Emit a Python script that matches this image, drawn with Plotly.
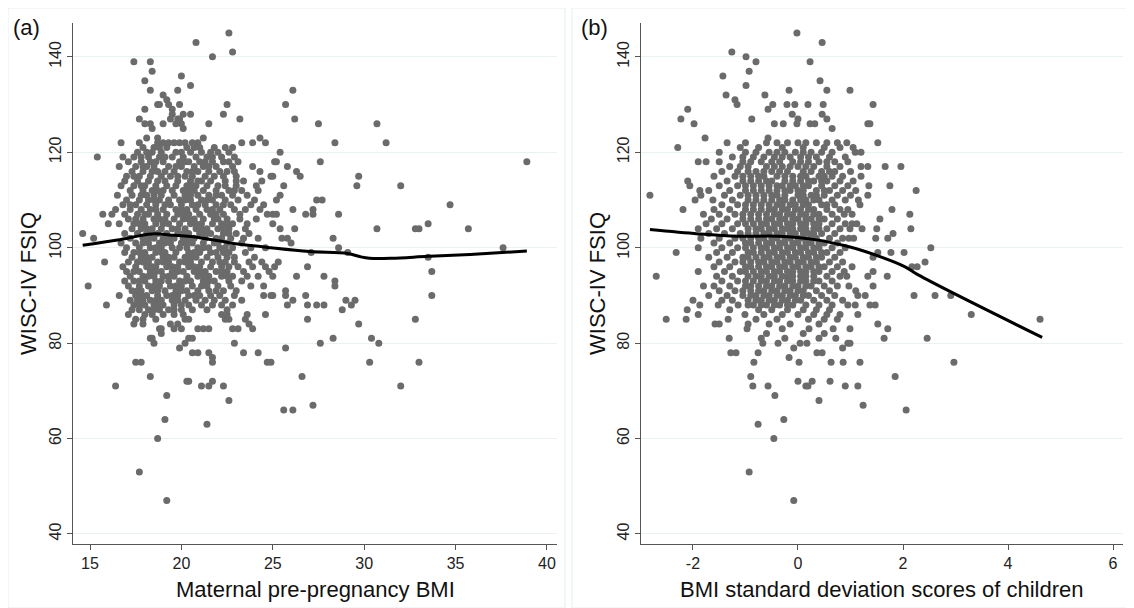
import plotly.graph_objects as go

# ---------------- Panel (a): maternal pre-pregnancy BMI vs WISC-IV FSIQ ----------------
# each entry: (FSIQ score, [maternal BMI values])
rows_a = [
    (145, [22.6]), (143, [20.8]), (141, [22.8]), (140, [21.7]), (139, [17.4, 18.3]),
    (137, [18.4]), (136, [20.0]), (135, [18.0]), (134, [20.5]), (133, [18.3, 19.8, 26.1]),
    (132, [19.0]), (131, [19.2]), (130, [18.7, 18.8, 19.3, 19.9, 22.5, 25.7]),
    (129, [18.0, 19.5]), (128, [19.5, 20.1, 20.5, 22.3]),
    (127, [17.7, 19.4, 19.8, 19.9, 23.2, 26.2]),
    (126, [18.0, 18.3, 19.0, 19.7, 20.0, 21.5, 27.5, 30.7]),
    (125, [18.4, 20.1]), (123, [18.1, 18.7, 21.2, 24.3]),
    (122, [16.7, 17.7, 18.7, 19.0, 19.3, 19.6, 19.9, 20.2, 20.6, 20.9, 23.3, 23.9, 24.6, 28.4, 31.2]),
    (121, [17.9, 18.5, 19.2, 20.3, 21.0, 21.8, 22.4, 22.8]),
    (120, [17.6, 18.4, 18.9, 19.7, 20.5, 21.1, 21.6, 22.6, 25.4]),
    (119, [15.4, 16.8, 17.4, 18.2, 18.8, 19.5, 20.1, 20.8, 21.4, 22.2, 22.9]),
    (118, [17.1, 17.8, 18.6, 19.0, 19.9, 20.4, 21.0, 21.3, 21.7, 22.3, 23.1, 25.1, 25.2, 27.6, 38.9]),
    (117, [16.6, 17.5, 18.1, 18.5, 19.3, 20.0, 20.7, 21.2, 21.9, 22.8, 23.9, 25.8]),
    (116, [17.3, 17.9, 18.4, 19.1, 19.6, 20.3, 20.9, 21.5, 22.1, 22.9, 24.3, 26.3]),
    (115, [17.0, 17.7, 18.3, 18.9, 19.4, 20.2, 20.6, 21.3, 21.8, 23.0, 24.9, 25.0, 26.5, 29.7]),
    (114, [16.9, 17.6, 18.2, 18.7, 19.8, 20.5, 21.1, 21.6, 22.4, 23.4, 24.4]),
    (113, [16.7, 17.4, 18.0, 18.6, 19.2, 19.7, 20.3, 20.8, 21.4, 22.0, 23.0, 24.1, 25.6, 29.6, 32.0]),
    (112, [17.2, 17.9, 18.4, 19.0, 19.5, 20.1, 20.7, 21.2, 21.9, 22.6, 23.3, 24.2]),
    (111, [16.5, 17.3, 17.8, 18.5, 18.9, 19.6, 20.2, 20.9, 21.5, 22.2, 22.8, 23.6, 25.4]),
    (110, [17.0, 17.7, 18.2, 18.8, 19.3, 19.9, 20.5, 21.1, 21.7, 22.4, 23.1, 24.0, 25.2, 27.4, 27.7]),
    (109, [16.8, 17.5, 18.1, 18.6, 19.4, 20.0, 20.6, 21.3, 21.9, 22.7, 23.8, 24.5, 34.7]),
    (108, [16.4, 17.2, 17.8, 18.3, 19.0, 19.7, 20.3, 20.8, 21.4, 22.1, 22.9, 23.5, 24.3, 26.1, 27.2]),
    (107, [15.7, 16.2, 16.9, 17.6, 18.2, 18.7, 19.2, 19.8, 20.4, 21.0, 21.6, 22.3, 23.2, 24.7, 25.0,
           25.2, 26.8, 27.2, 28.6]),
    (106, [17.1, 17.9, 18.5, 19.1, 19.6, 20.1, 20.7, 21.2, 21.8, 22.5, 23.2, 24.1]),
    (105, [16.0, 16.6, 17.4, 18.0, 18.6, 19.3, 19.9, 20.5, 21.1, 21.7, 22.2, 22.8, 23.6, 25.0, 33.5]),
    (104, [17.3, 17.8, 18.4, 18.9, 19.5, 20.2, 20.8, 21.4, 22.0, 22.6, 23.5, 25.4, 26.2, 30.7, 32.8,
           33.0, 35.7]),
    (103, [14.6, 16.9, 17.6, 18.1, 18.7, 19.2, 19.8, 20.4, 21.0, 21.6, 22.3, 23.0, 23.7]),
    (102, [15.2, 17.2, 17.9, 18.5, 19.0, 19.6, 20.1, 20.7, 21.3, 21.9, 22.7, 23.4, 24.2, 25.5, 25.8, 28.3]),
    (101, [16.7, 17.5, 18.2, 18.8, 19.4, 20.0, 20.6, 21.2, 21.8, 22.5, 23.3, 26.0]),
    (100, [17.0, 17.7, 18.3, 18.9, 19.5, 20.3, 20.9, 21.5, 22.1, 22.8, 23.8, 24.6, 28.6, 37.6]),
    (99, [16.9, 17.4, 18.0, 18.6, 19.1, 19.7, 20.4, 21.0, 21.6, 22.3, 22.6, 23.5, 27.1, 29.1]),
    (98, [17.3, 17.8, 18.4, 19.0, 19.6, 20.2, 20.8, 21.4, 22.0, 22.9, 24.0, 33.5]),
    (97, [15.8, 17.1, 17.6, 18.2, 18.7, 19.3, 19.9, 20.5, 21.1, 21.7, 22.4, 22.9, 23.7, 24.4, 25.3]),
    (96, [16.8, 17.5, 18.1, 18.6, 19.2, 19.8, 20.4, 21.0, 21.6, 22.2, 23.1, 23.9, 24.6, 25.1, 26.9]),
    (95, [17.0, 17.7, 18.3, 18.9, 19.5, 20.1, 20.7, 21.3, 21.9, 22.5, 23.4, 24.8, 33.7]),
    (94, [17.2, 17.9, 18.5, 19.0, 19.6, 20.3, 20.9, 21.5, 22.2, 22.8, 23.6, 24.2, 25.0, 26.3, 27.8]),
    (93, [16.9, 17.4, 18.0, 18.6, 19.3, 19.9, 20.5, 21.2, 21.8, 22.6, 23.3, 28.4]),
    (92, [14.9, 17.1, 17.7, 18.2, 18.8, 19.4, 20.0, 20.6, 21.4, 22.0, 22.7, 23.8, 24.5, 28.4]),
    (91, [17.3, 17.8, 18.4, 19.1, 19.7, 20.3, 20.9, 21.5, 22.3, 23.0, 25.7]),
    (90, [16.6, 17.5, 18.1, 18.7, 19.2, 19.8, 20.4, 21.0, 21.6, 22.1, 22.9, 24.5, 24.9, 25.0, 25.7,
          26.8, 33.7]),
    (89, [17.2, 17.9, 18.3, 18.9, 19.5, 20.2, 20.8, 21.3, 22.4, 23.3, 26.1, 29.0, 29.5]),
    (88, [15.9, 17.4, 18.0, 18.5, 19.0, 19.6, 20.4, 21.1, 21.7, 22.2, 22.8, 25.8, 26.9, 27.4, 27.8, 29.3]),
    (87, [17.3, 17.7, 18.2, 18.8, 19.3, 20.0, 20.6, 21.4, 22.5, 28.8]),
    (86, [17.1, 18.0, 18.4, 19.0, 19.6, 20.1, 22.2, 22.5, 23.6, 24.6]),
    (85, [17.5, 17.9, 18.6, 20.2, 20.4, 22.4, 22.6, 23.5, 26.9, 32.8]),
    (84, [17.4, 17.9, 19.4, 19.8, 23.7, 29.7]),
    (83, [18.8, 18.9, 19.6, 20.0, 20.9, 21.2, 21.5, 22.8, 23.1, 23.9]),
    (82, [18.9]), (81, [18.3, 18.4, 20.4, 20.6, 28.3, 30.4]), (80, [18.5, 20.2, 22.9, 27.6, 30.8]),
    (79, [19.9, 25.7]), (78, [20.6, 20.9, 21.5, 23.4, 24.2]), (77, [21.7]),
    (76, [17.5, 17.8, 21.7, 24.7, 24.9, 30.3, 33.0]), (73, [18.3, 26.6]), (72, [20.3, 20.4, 21.7]),
    (71, [16.4, 21.1, 21.5, 22.3, 32.0]), (69, [19.2]), (68, [22.6]), (67, [27.2]), (66, [25.6, 26.1]),
    (64, [19.1]), (63, [21.4]), (60, [18.7]), (53, [17.7]), (47, [19.2]),
]

# additional overlapping points in the dense core of panel (a)
core_a = [
    (121, [18.8, 20.7]), (120, [18.1, 20.0, 22.0]), (119, [17.8, 19.1, 21.7]), (118, [18.3, 20.2, 22.6]),
    (117, [17.9, 19.7, 21.5]), (116, [18.7, 20.6, 22.5]), (115, [17.4, 19.8, 22.3]),
    (114, [19.1, 20.9, 23.0]), (113, [17.8, 20.6, 22.4]), (112, [18.7, 20.4, 22.9]),
    (111, [18.1, 20.5, 21.9]), (110, [18.5, 20.2, 21.4]), (109, [17.2, 19.1, 20.9, 22.3]),
    (108, [18.6, 20.0, 21.7]), (107, [18.0, 20.1, 21.9]), (106, [17.5, 18.8, 20.4, 22.0]),
    (105, [17.7, 19.0, 20.8, 22.5]), (104, [18.1, 19.8, 21.1, 22.3]), (103, [18.4, 20.1, 21.3, 22.6]),
    (102, [18.2, 19.3, 20.4, 22.2]), (101, [17.9, 19.1, 20.3, 22.0]), (100, [18.6, 19.9, 21.2, 22.4]),
    (99, [17.7, 18.9, 20.7, 21.9]), (98, [18.1, 19.3, 20.5, 22.5]), (97, [17.9, 19.0, 20.2, 22.1]),
    (96, [18.4, 19.5, 20.7, 22.6]), (95, [17.4, 18.6, 19.8, 21.0, 22.2]), (94, [18.2, 19.3, 21.2, 22.5]),
    (93, [17.7, 18.9, 20.2, 21.5]), (92, [18.5, 19.7, 21.1]), (91, [17.6, 18.7, 20.0, 21.9]),
    (90, [17.8, 19.5, 20.7]), (89, [17.6, 18.6, 19.8, 21.8]), (88, [17.7, 18.8, 20.0]), (87, [18.5, 19.6]),
]

# lowess fit
fit_bmi_a = [14.6, 16.5, 18.4, 19.6, 21.0, 22.7, 24.9, 27.0, 29.1, 29.8, 30.3, 31.5, 33.5, 35.8, 38.9]
fit_iq_a = [100.5, 101.6, 102.9, 102.6, 102.1, 101.0, 100.0, 99.2, 98.8, 98.1, 97.8, 97.8, 98.2, 98.6, 99.3]

# ---------------- Panel (b): child BMI SD score vs WISC-IV FSIQ ----------------
rows_b = [
    (145, [-0.02]), (143, [0.46]), (141, [-1.26]), (140, [-0.99]), (139, [-0.80, 0.23]),
    (137, [-0.93]), (136, [-1.43]), (135, [0.42]), (134, [-0.99]), (133, [-0.17, 0.55, 0.99]),
    (132, [-1.37, -0.63]), (131, [-1.20]), (130, [-1.16, -0.48, -0.21, -0.06, 0.19, 0.48, 1.43]),
    (129, [-2.10, -0.57]), (128, [-0.11, 0.46]), (127, [-2.23, -0.88, 0.0, 0.55]),
    (126, [-1.98, -0.45, -0.28, -0.02, 0.23, 0.32, 1.33, 1.37]), (125, [0.65]),
    (123, [-1.77, -0.57]),
    (122, [-1.35, -1.0, -0.6, -0.4, -0.2, 0.0, 0.15, 0.35, 0.55, 0.75, 0.93, 1.52]),
    (121, [-2.29, -1.1, -0.75, -0.3, 0.1, 0.5, 0.8, 1.05]),
    (120, [-1.5, -1.0, -0.55, -0.25, -0.05, 0.25, 0.45, 0.65, 1.09, 1.2]),
    (119, [-1.25, -0.85, -0.45, -0.15, 0.05, 0.35, 0.6, 0.9]),
    (118, [-1.9, -1.75, -1.5, -1.05, -0.7, -0.35, -0.1, 0.2, 0.4, 0.7, 0.95]),
    (117, [-1.3, -0.95, -0.6, -0.3, 0.0, 0.3, 0.55, 0.8, 1.2, 1.33, 1.66, 1.96]),
    (116, [-1.45, -1.15, -0.8, -0.5, -0.2, 0.1, 0.45, 0.7, 1.0]),
    (115, [-1.6, -1.2, -0.9, -0.65, -0.4, -0.1, 0.15, 0.4, 0.65, 0.85, 1.2]),
    (114, [-2.10, -1.35, -1.05, -0.75, -0.5, -0.25, 0.05, 0.3, 0.55, 0.8, 1.05]),
    (113, [-2.06, -1.5, -1.15, -0.85, -0.55, -0.3, -0.05, 0.2, 0.45, 0.7, 0.95, 1.35, 1.75]),
    (112, [-1.87, -1.7, -1.3, -1.0, -0.7, -0.4, -0.15, 0.1, 0.35, 0.6, 0.85, 1.1, 2.25]),
    (111, [-2.82, -1.85, -1.4, -1.1, -0.8, -0.5, -0.25, 0.0, 0.25, 0.5, 0.75, 1.0, 1.33]),
    (110, [-1.96, -1.62, -1.25, -0.95, -0.65, -0.35, -0.1, 0.15, 0.4, 0.65, 0.9, 1.15]),
    (109, [-1.45, -1.15, -0.85, -0.55, -0.3, -0.05, 0.2, 0.45, 0.7, 1.18]),
    (108, [-2.19, -1.6, -1.3, -1.0, -0.7, -0.45, -0.2, 0.05, 0.3, 0.55, 0.8, 0.95, 1.79]),
    (107, [-1.8, -1.5, -1.2, -0.9, -0.6, -0.35, -0.1, 0.15, 0.4, 0.65, 0.88, 1.03, 2.13]),
    (106, [-1.65, -1.35, -1.05, -0.75, -0.5, -0.25, 0.0, 0.25, 0.5, 0.75, 1.56]),
    (105, [-1.75, -1.45, -1.15, -0.85, -0.6, -0.35, -0.1, 0.15, 0.4, 0.65, 0.9, 1.03, 1.12]),
    (104, [-1.9, -1.55, -1.25, -0.95, -0.7, -0.45, -0.2, 0.05, 0.3, 0.55, 0.8, 0.99, 1.22, 1.5, 2.15]),
    (103, [-1.7, -1.4, -1.1, -0.8, -0.55, -0.3, -0.05, 0.2, 0.45, 0.7, 1.81]),
    (102, [-1.85, -1.5, -1.2, -0.9, -0.65, -0.4, -0.15, 0.1, 0.35, 0.6, 0.85, 0.97, 1.06, 1.48, 1.71]),
    (101, [-1.6, -1.3, -1.0, -0.75, -0.5, -0.25, 0.0, 0.25, 0.5, 0.75]),
    (100, [-1.9, -1.45, -1.15, -0.85, -0.6, -0.35, -0.1, 0.15, 0.4, 0.65, 0.9, 2.53]),
    (99, [-2.32, -1.55, -1.25, -0.95, -0.7, -0.45, -0.2, 0.05, 0.3, 0.55, 0.8, 1.52, 1.77, 2.02]),
    (98, [-1.7, -1.35, -1.05, -0.8, -0.55, -0.3, -0.05, 0.2, 0.45, 0.7, 1.43]),
    (97, [-1.5, -1.2, -0.9, -0.65, -0.4, -0.15, 0.1, 0.35, 0.6, 0.85, 2.42]),
    (96, [-1.6, -1.3, -1.0, -0.75, -0.5, -0.25, 0.0, 0.25, 0.5, 0.75, 1.03, 2.17, 2.27]),
    (95, [-1.9, -1.4, -1.1, -0.85, -0.6, -0.35, -0.1, 0.15, 0.4, 0.65, 0.88, 1.43]),
    (94, [-2.70, -1.55, -1.25, -0.95, -0.7, -0.45, -0.2, 0.05, 0.3, 0.55, 0.8, 0.93, 1.33, 1.70]),
    (93, [-1.45, -1.15, -0.85, -0.6, -0.35, -0.1, 0.15, 0.4, 0.65]),
    (92, [-1.8, -1.6, -1.3, -1.0, -0.75, -0.5, -0.25, 0.0, 0.25, 0.5, 0.75, 0.97, 1.43]),
    (91, [-1.5, -1.2, -0.9, -0.65, -0.4, -0.15, 0.1, 0.35, 0.6, 1.1]),
    (90, [-1.70, -1.35, -1.05, -0.8, -0.55, -0.3, -0.05, 0.2, 0.45, 0.7, 1.14, 1.28, 2.21, 2.61, 2.91]),
    (89, [-2.0, -1.45, -1.25, -0.95, -0.7, -0.45, -0.2, 0.05, 0.3, 0.55, 0.85]),
    (88, [-1.87, -1.52, -1.14, -0.85, -0.6, -0.35, -0.1, 0.15, 0.4, 0.65, 0.95, 1.09, 1.37, 1.47]),
    (87, [-2.11, -1.3, -0.75, -0.5, -0.2, 0.1, 0.35, 0.6]),
    (86, [-1.90, -1.01, -0.65, -0.3, 0.0, 0.3, 0.55, 0.8, 1.14, 3.30]),
    (85, [-2.51, -2.13, -1.33, -0.8, -0.4, 0.2, 0.5, 0.75, 4.61]),
    (84, [-1.58, -1.50, -0.95, -0.55, -0.15, 0.4, 1.52]),
    (83, [-0.97, -0.3, 0.21, 0.67, 0.99, 1.71]), (82, [-0.6, 0.1, 0.5]),
    (81, [-1.31, -0.70, -0.25, 0.40, 0.72, 1.64, 2.46]), (80, [-0.67, -0.38, 0.04, 0.17, 0.95, 0.99]),
    (79, [-0.08, 0.85]), (78, [-1.28, -1.18, -0.76, 0.36, 0.46]), (77, [-0.17]),
    (76, [-0.84, 0.02, 0.63, 0.86, 1.18, 2.97]), (73, [-0.90, 1.85]), (72, [0.0, 0.27, 0.61]),
    (71, [-0.86, -0.57, 0.15, 0.19, 0.90, 1.14]), (69, [-0.44]), (68, [0.40]), (67, [1.24]),
    (66, [2.06]), (64, [-0.27]), (63, [-0.76]), (60, [-0.46]), (53, [-0.93]), (47, [-0.08]),
]

# additional overlapping points in the dense core of panel (b)
core_b = [
    (120, [-0.8, -0.4, 0.1]), (119, [-1.05, -0.65, -0.3, 0.2]), (118, [-0.9, -0.5, 0.05, 0.55]),
    (117, [-1.1, -0.45, -0.15, 0.15]), (116, [-0.95, -0.65, -0.35, 0.25, 0.6]),
    (115, [-1.05, -0.75, -0.25, 0.05, 0.5]), (114, [-0.9, -0.6, -0.1, 0.2, 0.45]),
    (113, [-1.0, -0.7, -0.4, -0.15, 0.1]), (112, [-0.85, -0.55, -0.25, 0.0, 0.5]),
    (111, [-0.95, -0.65, -0.4, 0.1, 0.35]), (110, [-0.8, -0.5, -0.25, 0.05, 0.3]),
    (109, [-1.0, -0.7, -0.4, -0.15, 0.1, 0.55]), (108, [-0.85, -0.55, -0.3, -0.05, 0.2]),
    (107, [-1.05, -0.75, -0.45, -0.2, 0.05, 0.3]), (106, [-0.9, -0.6, -0.35, -0.1, 0.15, 0.4]),
    (105, [-1.0, -0.7, -0.45, -0.2, 0.05, 0.3]), (104, [-0.8, -0.55, -0.3, -0.1, 0.15, 0.4]),
    (103, [-0.95, -0.65, -0.4, -0.15, 0.1, 0.3]), (102, [-1.05, -0.75, -0.5, -0.25, 0.0, 0.25]),
    (101, [-0.9, -0.6, -0.35, -0.1, 0.15, 0.4]), (100, [-1.0, -0.7, -0.45, -0.2, 0.05, 0.3]),
    (99, [-0.85, -0.55, -0.3, -0.05, 0.2, 0.45]), (98, [-0.95, -0.65, -0.4, -0.15, 0.1, 0.35]),
    (97, [-1.05, -0.75, -0.5, -0.25, 0.0, 0.25]), (96, [-0.9, -0.6, -0.35, -0.1, 0.15, 0.4]),
    (95, [-1.0, -0.7, -0.45, -0.2, 0.05, 0.3]), (94, [-0.8, -0.55, -0.3, -0.1, 0.15]),
    (93, [-1.0, -0.7, -0.45, -0.2, 0.05, 0.3]), (92, [-0.9, -0.6, -0.35, -0.1, 0.15]),
    (91, [-1.05, -0.75, -0.5, -0.25, 0.0]), (90, [-0.9, -0.65, -0.4, -0.15, 0.1]),
    (89, [-0.8, -0.55, -0.3, -0.05]), (88, [-0.95, -0.7, -0.45, -0.2]),
]

# lowess fit
fit_sds_b = [-2.82, -1.90, -1.15, -0.38, 0.32, 0.90, 1.28, 2.04, 2.29, 4.65]
fit_iq_b = [103.8, 102.9, 102.4, 102.4, 101.7, 100.4, 99.2, 96.0, 94.3, 81.2]

xticks_a = [15, 20, 25, 30, 35, 40]
xticks_b = [-2, 0, 2, 4, 6]
xticklabels_b = ["-2", "0", "2", "4", "6"]
yticks = [40, 60, 80, 100, 120, 140]


def flatten(*row_sets):
    xs, ys = [], []
    for rows in row_sets:
        for iq, vals in rows:
            for v in vals:
                xs.append(v)
                ys.append(iq)
    return xs, ys


xa, ya = flatten(rows_a, core_a)
xb, yb = flatten(rows_b, core_b)

DOT = "#6b6b6b"
FONT = "Arial, Liberation Sans, sans-serif"

# the page body has an 8px default margin; lay the figure out in page pixels
OFF = 8
W, H = 1134 - OFF, 608 - OFF


def px(p):
    return (p - OFF) / W


def py(p):
    return 1 - (p - OFF) / H


fig = go.Figure()
fig.add_trace(go.Scatter(x=xa, y=ya, mode="markers", marker=dict(size=7, color=DOT),
                         xaxis="x", yaxis="y", showlegend=False, hoverinfo="skip"))
fig.add_trace(go.Scatter(x=fit_bmi_a, y=fit_iq_a, mode="lines", line=dict(color="black", width=3, shape="spline"),
                         xaxis="x", yaxis="y", showlegend=False))
fig.add_trace(go.Scatter(x=xb, y=yb, mode="markers", marker=dict(size=7, color=DOT),
                         xaxis="x2", yaxis="y2", showlegend=False, hoverinfo="skip"))
fig.add_trace(go.Scatter(x=fit_sds_b, y=fit_iq_b, mode="lines", line=dict(color="black", width=3, shape="spline"),
                         xaxis="x2", yaxis="y2", showlegend=False))

ydom = [py(544), py(23)]

axis_common = dict(showline=True, linecolor="#555555", linewidth=1, ticks="outside", ticklen=5,
                   tickcolor="#555555", tickfont=dict(family=FONT, size=16, color="#222222"),
                   zeroline=False)

fig.update_layout(
    width=W, height=H, margin=dict(l=0, r=0, t=0, b=0),
    paper_bgcolor="white", plot_bgcolor="white",
    font=dict(family=FONT),
    xaxis=dict(domain=[px(73), px(557)], range=[14.07, 40.55], tickvals=xticks_a, anchor="y",
               showgrid=False, **axis_common),
    yaxis=dict(domain=ydom, range=[37.9, 147.1], tickvals=yticks, tickangle=-90, anchor="x",
               showgrid=True, gridcolor="#eaf1f3", gridwidth=1, **axis_common),
    xaxis2=dict(domain=[px(641), px(1123)], range=[-2.99, 6.19], tickvals=xticks_b,
                ticktext=xticklabels_b, anchor="y2", showgrid=False, **axis_common),
    yaxis2=dict(domain=ydom, range=[37.9, 147.1], tickvals=yticks, tickangle=-90, anchor="x2",
                showgrid=True, gridcolor="#eaf1f3", gridwidth=1, **axis_common),
)

# light panel frames
for x0, x1 in [(8, 565), (572, 1128)]:
    fig.add_shape(type="rect", xref="paper", yref="paper", x0=px(x0), x1=px(x1), y0=0, y1=py(8),
                  line=dict(color="#e6edf0", width=1), fillcolor="rgba(0,0,0,0)", layer="below")

ann = [
    dict(text="(a)", x=11, y=28, xanchor="left", size=22, angle=0),
    dict(text="(b)", x=579, y=28, xanchor="left", size=22, angle=0),
    dict(text="WISC-IV FSIQ", x=28, y=284, xanchor="center", size=22, angle=-90),
    dict(text="WISC-IV FSIQ", x=597, y=284, xanchor="center", size=22, angle=-90),
    dict(text="Maternal pre-pregnancy BMI", x=315, y=589, xanchor="center", size=22, angle=0),
    dict(text="BMI standard deviation scores of children", x=882, y=589, xanchor="center", size=22, angle=0),
]
for a in ann:
    fig.add_annotation(text=a["text"], xref="paper", yref="paper", x=px(a["x"]), y=py(a["y"]),
                       xanchor=a["xanchor"], yanchor="middle", textangle=a["angle"], showarrow=False,
                       font=dict(family=FONT, size=a["size"], color="#111111"))

fig.write_html("out.html")
